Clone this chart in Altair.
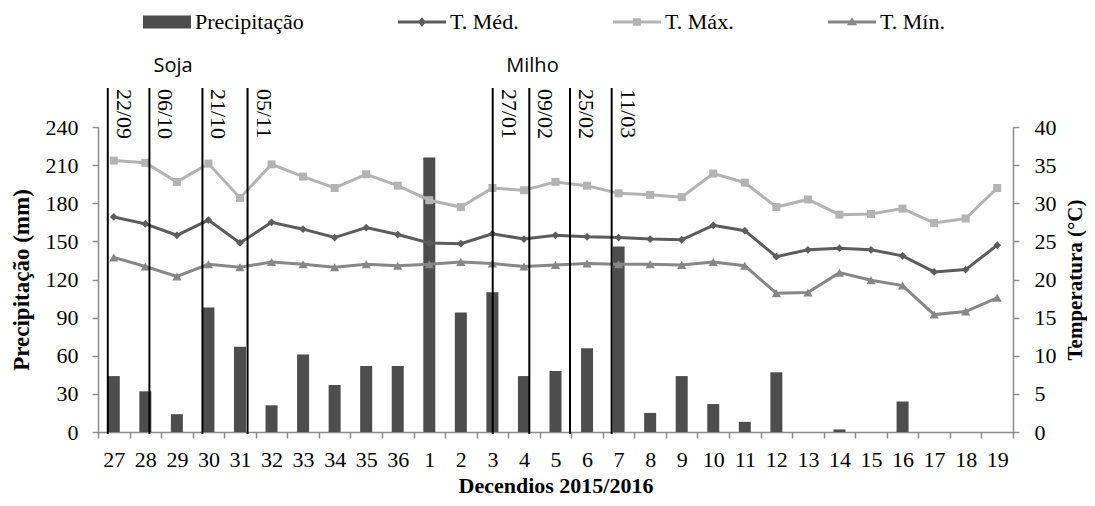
import json
import altair as alt
import pandas as pd

# ---------------- data ----------------
decendios = ['27', '28', '29', '30', '31', '32', '33', '34', '35', '36',
             '1', '2', '3', '4', '5', '6', '7', '8', '9', '10',
             '11', '12', '13', '14', '15', '16', '17', '18', '19']
precipitacao = [44, 32, 14, 98, 67, 21, 61, 37, 52, 52,
                216, 94, 110, 44, 48, 66, 146, 15, 44, 22,
                8, 47, 0, 2, 0, 24, 0, 0, 0]
t_med = [28.2, 27.3, 25.8, 27.8, 24.8, 27.5, 26.6, 25.5, 26.8, 25.9,
         24.8, 24.7, 26.0, 25.3, 25.8, 25.6, 25.5, 25.3, 25.2, 27.1,
         26.4, 23.0, 23.9, 24.1, 23.9, 23.1, 21.0, 21.3, 24.5]
t_max = [35.6, 35.3, 32.8, 35.2, 30.7, 35.1, 33.5, 32.0, 33.8, 32.3,
         30.4, 29.5, 32.0, 31.7, 32.8, 32.3, 31.3, 31.1, 30.8, 33.9,
         32.7, 29.5, 30.5, 28.5, 28.6, 29.3, 27.4, 28.0, 32.0]
t_min = [22.9, 21.7, 20.4, 22.0, 21.6, 22.3, 22.0, 21.6, 22.0, 21.8,
         22.0, 22.3, 22.1, 21.7, 21.9, 22.1, 22.0, 22.0, 21.9, 22.3,
         21.8, 18.2, 18.3, 20.9, 19.9, 19.2, 15.4, 15.8, 17.6]

# phenological dates (position in decendio units, 0 = first decendio)
datas = ['22/09', '06/10', '21/10', '05/11', '27/01', '09/02', '25/02', '11/03']
datas_pos = [-0.19, 1.13, 2.81, 4.24, 12.01, 13.17, 14.46, 15.78]
culturas = ['Soja', 'Milho']
culturas_pos = [1.88, 13.27]

series = ['Precipitação', 'T. Méd.', 'T. Máx.', 'T. Mín.']
cores = ['#4d4d4d', '#5c5c5c', '#b3b3b3', '#878787']

# ---------------- tables ----------------
n = len(decendios)
df_p = pd.DataFrame({'x': list(range(n)), 'prec': precipitacao})
rows = []
for nome, vals in zip(series[1:], [t_med, t_max, t_min]):
    for k, v in enumerate(vals):
        rows.append({'x': k, 'temp': v, 'serie': nome})
df_t = pd.DataFrame(rows)
df_d = pd.DataFrame({'x': datas_pos, 'data': datas})
df_c = pd.DataFrame({'x': culturas_pos, 'cultura': culturas})

W, H = 915, 305
serif = 'Liberation Serif'

x_scale = alt.Scale(domain=[-0.5, n - 0.5], nice=False, zero=False, padding=0)
label_expr = "datum.value < %s ? %s[round(datum.value + 0.5)] : ''" % (n - 1, json.dumps(decendios))
x_axis = alt.Axis(values=[k - 0.5 for k in range(n + 1)], labelExpr=label_expr,
                  labelOffset=W / n / 2, labelFlush=False, labelOverlap=False,
                  tickSize=6, labelPadding=11, title='Decendios 2015/2016', titlePadding=5,
                  orient='bottom')
x_enc = alt.X('x:Q', scale=x_scale, axis=x_axis)

y_prec = alt.Y('prec:Q', scale=alt.Scale(domain=[0, 240], nice=False),
               axis=alt.Axis(values=list(range(0, 241, 30)), orient='left',
                             title='Precipitação (mm)', labelPadding=14, titlePadding=12,
                             titleFontSize=23))
temp_scale = alt.Scale(domain=[0, 40], nice=False)
y_temp = alt.Y('temp:Q', scale=temp_scale,
               axis=alt.Axis(values=list(range(0, 41, 5)), orient='right',
                             title='Temperatura (°C)', titleAngle=270, titleBaseline='top',
                             titleFontSize=21, labelPadding=15, titlePadding=8))

bars = alt.Chart(df_p).mark_bar(size=12, color=cores[0]).encode(x=x_enc, y=y_prec)

marcadores = {'T. Méd.': ('diamond', 60), 'T. Máx.': ('square', 64), 'T. Mín.': ('triangle-up', 85)}
temp_layers = []
for nome, cor in zip(series[1:], cores[1:]):
    base = alt.Chart(df_t).transform_filter(alt.datum.serie == nome)
    temp_layers.append(base.mark_line(color=cor, strokeWidth=3).encode(x=x_enc, y=y_temp))
for nome, cor in zip(series[1:], cores[1:]):
    base = alt.Chart(df_t).transform_filter(alt.datum.serie == nome)
    shp, sz = marcadores[nome]
    temp_layers.append(base.mark_point(filled=True, shape=shp, size=sz, color=cor, opacity=1)
                       .encode(x=x_enc, y=y_temp))

linha = 'M-1,-0.065H1V0.065H-1Z'
formas = [
    'M-1,-0.27H1V0.27H-1Z',
    linha + 'M0,-0.2L0.17,0L0,0.2L-0.17,0Z',
    linha + 'M-0.16,-0.16H0.16V0.16H-0.16Z',
    linha + 'M-0.21,0.14L0,-0.2L0.21,0.14Z',
]
leg = dict(title=None, orient='none', legendX=45, legendY=-129, direction='horizontal',
           symbolSize=2304, symbolStrokeWidth=0, symbolOpacity=1, labelOffset=4,
           columnPadding=94, padding=0, labelFont=serif, labelFontSize=22,
           labelColor='black', labelLimit=400)
legend_layer = alt.Chart(df_t).transform_filter('false').mark_point(filled=True, opacity=1).encode(
    x=x_enc, y=y_temp,
    color=alt.Color('serie:N', scale=alt.Scale(domain=series, range=cores), legend=alt.Legend(**leg)),
    shape=alt.Shape('serie:N', scale=alt.Scale(domain=series, range=formas), legend=alt.Legend(**leg)),
)
temp_layers.append(legend_layer)

rules = alt.Chart(df_d).mark_rule(color='black', strokeWidth=2).encode(
    x=x_enc, y=alt.value(-39), y2=alt.value(H + 2))
rotulos = alt.Chart(df_d).mark_text(angle=90, align='left', baseline='alphabetic', font=serif,
                                    fontSize=22, color='black', xOffset=9).encode(
    x=x_enc, y=alt.value(-38), text='data:N')
cult = alt.Chart(df_c).mark_text(align='center', baseline='alphabetic', font='Open Sans',
                                 fontSize=20, color='black').encode(
    x=x_enc, y=alt.value(-55), text='cultura:N')

temps = alt.layer(*temp_layers, rules, rotulos, cult)

chart = alt.layer(bars, temps).resolve_scale(y='independent').properties(
    width=W, height=H,
    autosize=alt.AutoSizeParams(type='none'),
    padding={'left': 90, 'top': 119, 'right': 74, 'bottom': 64},
).configure_view(stroke=None).configure_axis(
    grid=False, domainColor='#8c8c8c', domainWidth=1.5, tickColor='#8c8c8c', tickWidth=1.5,
    tickSize=6, labelFont=serif, labelFontSize=22, labelColor='black',
    titleFont=serif, titleFontSize=22, titleFontWeight='bold', titleColor='black',
).configure_legend(labelFont=serif, labelFontSize=22, labelColor='black')

chart.save('out.html', embed_options={'renderer': 'svg', 'actions': False})
